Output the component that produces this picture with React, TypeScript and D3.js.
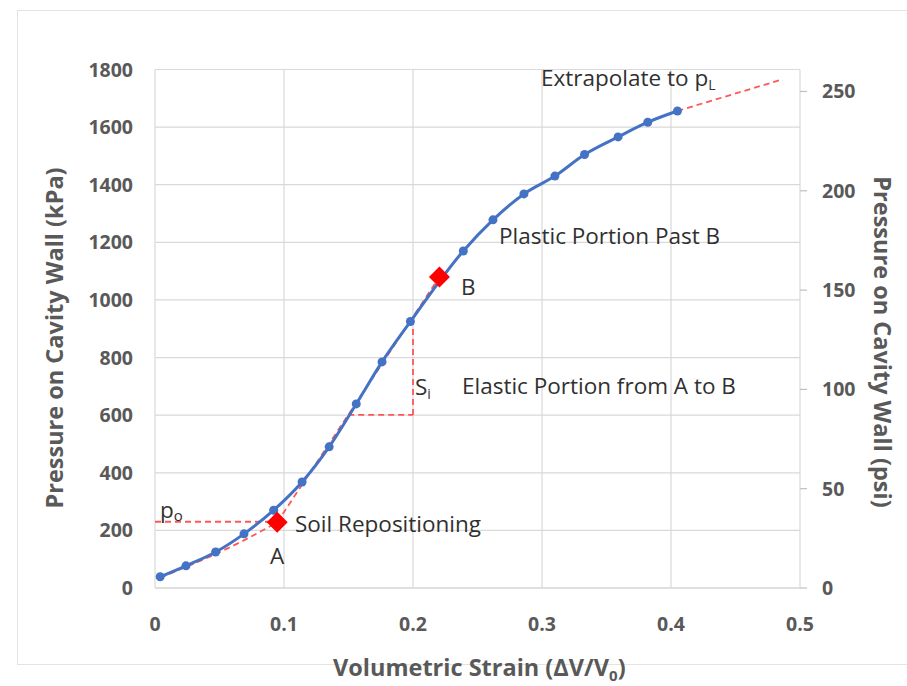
import React from "react";
import * as d3 from "d3";

// Measured curve (volumetric strain, kPa)
const strain = [0.004, 0.024, 0.047, 0.069, 0.092, 0.114, 0.135, 0.156, 0.176, 0.198, 0.239, 0.262, 0.286, 0.31, 0.333, 0.359, 0.382, 0.405];
const pressure = [39, 77, 125, 188, 270, 368, 490, 639, 785, 925, 1170, 1278, 1368, 1430, 1505, 1566, 1617, 1656];

// Soil repositioning (dashed) from origin to A
const reposStrain = [0.004, 0.024, 0.047, 0.07, 0.0947];
const reposPressure = [36, 73, 118, 168, 228];

// Key points A and B
const keyLabels = ["A", "B"];
const keyStrain = [0.0947, 0.2205];
const keyPressure = [228, 1080];

// Extrapolation to pL
const extrapStrain = [0.405, 0.486];
const extrapPressure = [1656, 1765];

// p0 level and Si triangle
const p0Level = 230;
const siBase = 601;
const siRight = 0.2;

const xTicks = [0, 0.1, 0.2, 0.3, 0.4, 0.5];
const yTicks = [0, 200, 400, 600, 800, 1000, 1200, 1400, 1600, 1800];
const psiTicks = [0, 50, 100, 150, 200, 250];
const KPA_PER_PSI = 6.895;

const W = 907, H = 686;
const L = 155, R = 800, T = 69.5, B = 588;

const FONT = "'Open Sans', 'Noto Sans', sans-serif";

export default function App() {
  const x = d3.scaleLinear().domain([0, 0.5]).range([L, R]);
  const y = d3.scaleLinear().domain([0, 1800]).range([B, T]);
  const yPsi = d3.scaleLinear().domain([0, 1800 / KPA_PER_PSI]).range([B, T]);

  const line = d3.line<[number, number]>().x(d => x(d[0])).y(d => y(d[1]));
  const curveLine = d3
    .line<[number, number]>()
    .x(d => x(d[0]))
    .y(d => y(d[1]))
    .curve(d3.curveMonotoneX);

  const main = strain.map((s, i) => [s, pressure[i]] as [number, number]);
  const repos = reposStrain.map((s, i) => [s, reposPressure[i]] as [number, number]);
  const elastic: [number, number][] = [
    [keyStrain[0], keyPressure[0]],
    [keyStrain[1], keyPressure[1]],
  ];
  const slope = (keyPressure[1] - keyPressure[0]) / (keyStrain[1] - keyStrain[0]);
  const siLeft = keyStrain[0] + (siBase - keyPressure[0]) / slope;
  const siTop = keyPressure[0] + (siRight - keyStrain[0]) * slope;
  const extrap = extrapStrain.map((s, i) => [s, extrapPressure[i]] as [number, number]);

  const grid = "#d9d9d9";
  const tickCol = "#595959";
  const red = "#ff5757";
  const blue = "#4472c4";
  const dash = "6,4";
  const annCol = "#303030";
  const titleSize = 23.5;

  return (
    <svg
      width={W}
      height={H}
      style={{ position: "absolute", left: 0, top: 0, background: "#fff" }}
      fontFamily={FONT}
    >
      <rect x={17.5} y={10.5} width={900} height={654} fill="none" stroke="#e3e3e3" />

      {/* gridlines */}
      {yTicks.map(t => (
        <line key={"gy" + t} x1={L} x2={R} y1={y(t)} y2={y(t)} stroke={t === 0 ? "#bfbfbf" : grid} strokeWidth={1.2} />
      ))}
      {xTicks.map(t => (
        <line key={"gx" + t} x1={x(t)} x2={x(t)} y1={T} y2={B} stroke={grid} strokeWidth={1.2} />
      ))}

      {/* right axis ticks */}
      {psiTicks.map(t => (
        <line key={"pt" + t} x1={R} x2={R + 7} y1={yPsi(t)} y2={yPsi(t)} stroke="#bfbfbf" strokeWidth={1.2} />
      ))}

      {/* tick labels */}
      {yTicks.map(t => (
        <text key={"yl" + t} x={133} y={y(t)} dy="0.36em" textAnchor="end" fontSize={19.5} fontWeight={700} fill={tickCol}>
          {t}
        </text>
      ))}
      {psiTicks.map(t => (
        <text key={"pl" + t} x={822} y={yPsi(t)} dy="0.36em" textAnchor="start" fontSize={19.5} fontWeight={700} fill={tickCol}>
          {t}
        </text>
      ))}
      {xTicks.map(t => (
        <text key={"xl" + t} x={x(t)} y={624} dy="0.36em" textAnchor="middle" fontSize={19.5} fontWeight={700} fill={tickCol}>
          {t}
        </text>
      ))}

      {/* axis titles */}
      <text x={333} y={676} textAnchor="start" fontSize={titleSize} fontWeight={700} fill={tickCol}>
        Volumetric Strain (ΔV/V<tspan fontSize={15} dy={5}>0</tspan><tspan dy={-5}>)</tspan>
      </text>
      <text transform={`translate(63,338) rotate(-90)`} textAnchor="middle" fontSize={titleSize} fontWeight={700} fill={tickCol}>
        Pressure on Cavity Wall (kPa)
      </text>
      <text transform={`translate(874,342) rotate(90)`} textAnchor="middle" fontSize={titleSize} fontWeight={700} fill={tickCol}>
        Pressure on Cavity Wall (psi)
      </text>

      {/* red dashed construction lines */}
      <path d={curveLine(repos) || ""} fill="none" stroke={red} strokeWidth={1.8} strokeDasharray={dash} />
      <path d={line(elastic) || ""} fill="none" stroke={red} strokeWidth={1.8} strokeDasharray={dash} />
      <path d={line(extrap) || ""} fill="none" stroke={red} strokeWidth={1.8} strokeDasharray={dash} />
      <line x1={x(0)} x2={x(keyStrain[0])} y1={y(p0Level)} y2={y(p0Level)} stroke={red} strokeWidth={1.8} strokeDasharray={dash} />
      <line x1={x(siLeft)} x2={x(siRight)} y1={y(siBase)} y2={y(siBase)} stroke={red} strokeWidth={1.8} strokeDasharray={dash} />
      <line x1={x(siRight)} x2={x(siRight)} y1={y(siBase)} y2={y(siTop)} stroke={red} strokeWidth={1.8} strokeDasharray={dash} />

      {/* main curve */}
      <path d={curveLine(main) || ""} fill="none" stroke={blue} strokeWidth={3} />
      {main.map((d, i) => (
        <circle key={"pt" + i} cx={x(d[0])} cy={y(d[1])} r={4.5} fill={blue} />
      ))}

      {/* key diamonds */}
      {keyStrain.map((s, i) => {
        const cx = x(s), cy = y(keyPressure[i]);
        const r = 10.5;
        return (
          <path key={keyLabels[i]} d={`M${cx},${cy - r}L${cx + r},${cy}L${cx},${cy + r}L${cx - r},${cy}Z`} fill="#ff0000" />
        );
      })}

      {/* annotations */}
      <g fontSize={22.5} fill={annCol}>
        <text x={270} y={564}>A</text>
        <text x={461} y={295}>B</text>
        <text x={295} y={532}>Soil Repositioning</text>
        <text x={160} y={518}>p<tspan fontSize={15} dy={3}>o</tspan></text>
        <text x={415} y={395}>S<tspan fontSize={14} dy={4}>i</tspan></text>
        <text x={462} y={394}>Elastic Portion from A to B</text>
        <text x={499} y={244}>Plastic Portion Past B</text>
        <text x={541} y={86}>Extrapolate to p<tspan fontSize={14} dy={4}>L</tspan></text>
      </g>
    </svg>
  );
}
